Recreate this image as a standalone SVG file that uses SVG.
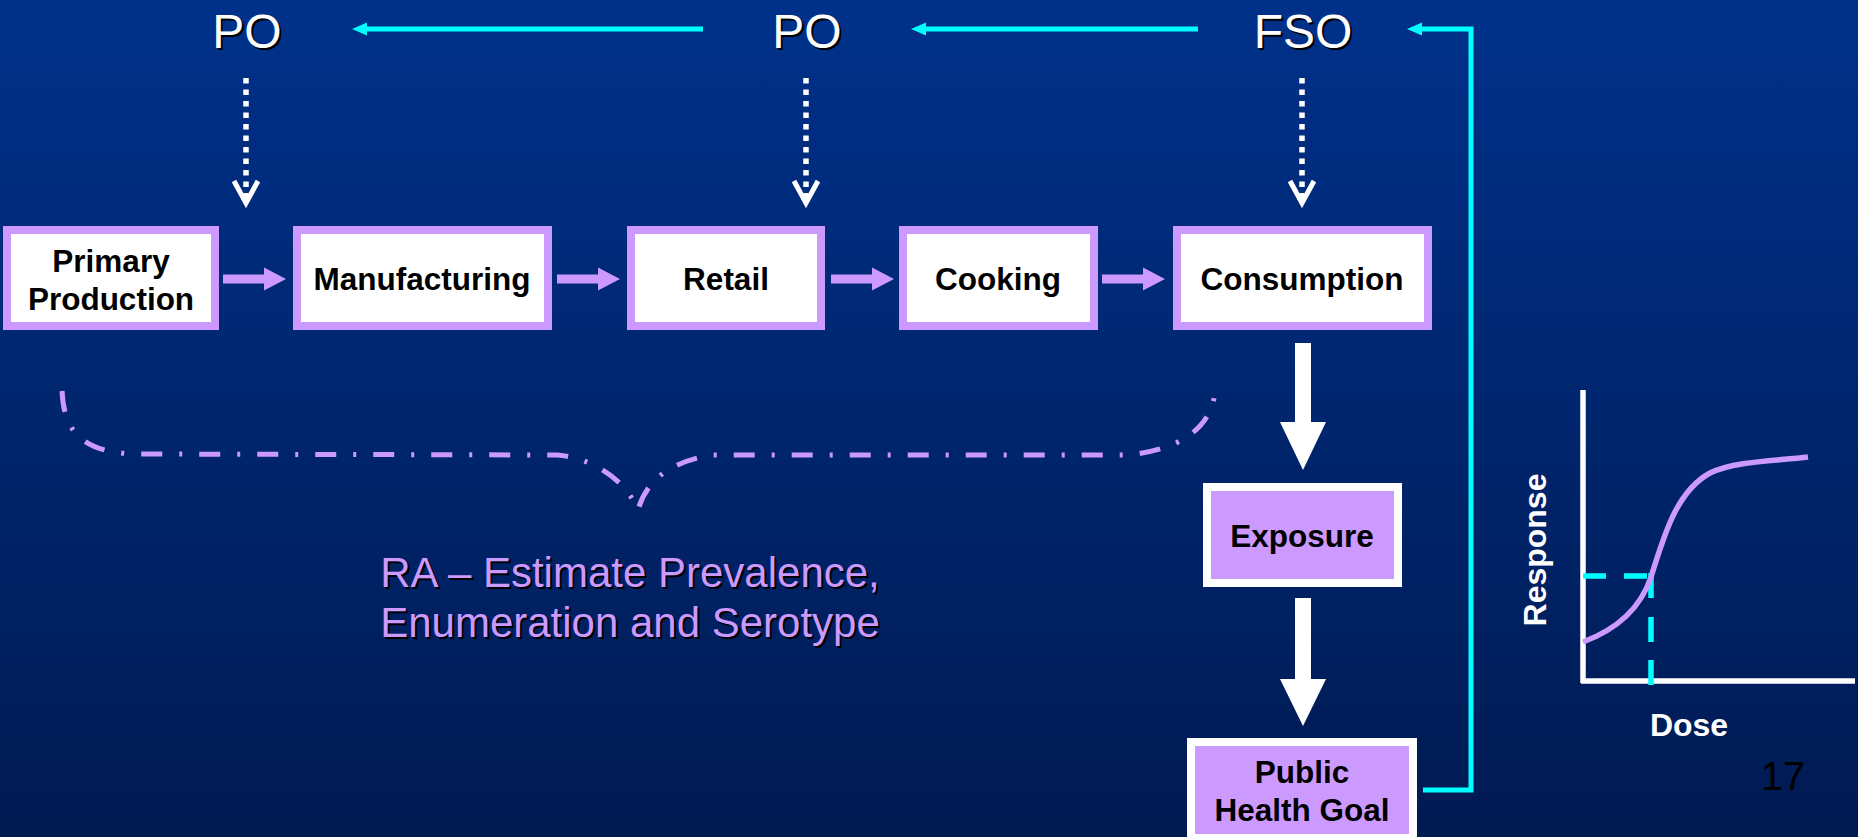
<svg xmlns="http://www.w3.org/2000/svg" width="1858" height="837" viewBox="0 0 1858 837">
<defs>
<linearGradient id="bg" x1="0" y1="0" x2="0" y2="1">
<stop offset="0" stop-color="#00318a"/>
<stop offset="1" stop-color="#001a52"/>
</linearGradient>
<polygon id="parrow" points="0,274.5 41,274.5 41,267.5 63,279 41,290.5 41,283.5 0,283.5" fill="#cc99ff"/>
</defs>
<style>
.lbl{font-family:"Liberation Sans",Arial,sans-serif;font-size:48px;text-anchor:middle}
.lw{fill:#ffffff}
.ls{fill:#000000}
.box{fill:#ffffff;stroke:#cc99ff;stroke-width:8}
.pbox{fill:#cc99ff;stroke:#ffffff;stroke-width:8}
.bt{font-family:"Liberation Sans",Arial,sans-serif;font-weight:bold;font-size:31.5px;text-anchor:middle;fill:#000000}
.cy{fill:none;stroke:#00ffff;stroke-width:5}
.cyh{fill:#00ffff}
.dot{fill:none;stroke:#ffffff;stroke-width:5.5;stroke-dasharray:5.5 6}
.vee{fill:none;stroke:#ffffff;stroke-width:5}
.ra{font-family:"Liberation Sans",Arial,sans-serif;font-size:42px;text-anchor:middle}
.ax{font-family:"Liberation Sans",Arial,sans-serif;font-weight:bold;font-size:32px;text-anchor:middle;fill:#ffffff}
</style>
<rect x="0" y="0" width="1858" height="837" fill="url(#bg)"/>

<g id="connectors">
<!-- cyan feedback arrows -->
<path class="cy" d="M703,29 H362"/>
<polygon class="cyh" points="352,29 367,22.5 367,35.5"/>
<path class="cy" d="M1198,29 H921"/>
<polygon class="cyh" points="911,29 926,22.5 926,35.5"/>
<path class="cy" d="M1423,790 H1471 V29 H1417"/>
<polygon class="cyh" points="1407,29 1422,22.5 1422,35.5"/>
<!-- dotted objective arrows -->
<path class="dot" d="M246,78 V200"/>
<polyline class="vee" points="234,181 246,203 258,181"/>
<path class="dot" d="M806,78 V200"/>
<polyline class="vee" points="794,181 806,203 818,181"/>
<path class="dot" d="M1302,78 V200"/>
<polyline class="vee" points="1290,181 1302,203 1314,181"/>
<!-- purple chain arrows -->
<use href="#parrow" x="223"/>
<use href="#parrow" x="557"/>
<use href="#parrow" x="831"/>
<use href="#parrow" x="1102"/>
<!-- big white arrows -->
<polygon fill="#ffffff" points="1295,343 1311,343 1311,422 1326,422 1303,470 1280,422 1295,422"/>
<polygon fill="#ffffff" points="1295,598 1311,598 1311,679 1326,679 1303,726 1280,679 1295,679"/>
<!-- brace -->
<path d="M62,391 C64,430 80,452 135,454 L558,455 C590,458 625,478 638,510 C645,485 665,462 713,455 L1124,455 C1175,452 1212,430 1215,391" fill="none" stroke="#cc99ff" stroke-width="5" stroke-dasharray="21 17 3 17"/>
</g>

<g id="label-po1">
<text class="lbl ls" x="249" y="50">PO</text>
<text class="lbl lw" x="247" y="48">PO</text>
</g>
<g id="label-po2">
<text class="lbl ls" x="809" y="50">PO</text>
<text class="lbl lw" x="807" y="48">PO</text>
</g>
<g id="label-fso">
<text class="lbl ls" x="1305" y="50">FSO</text>
<text class="lbl lw" x="1303" y="48">FSO</text>
</g>

<g id="node-primary">
<rect class="box" x="7" y="230" width="208" height="96"/>
<text class="bt" x="111" y="272">Primary</text>
<text class="bt" x="111" y="310">Production</text>
</g>
<g id="node-manufacturing">
<rect class="box" x="297" y="230" width="251" height="96"/>
<text class="bt" x="422" y="290">Manufacturing</text>
</g>
<g id="node-retail">
<rect class="box" x="631" y="230" width="190" height="96"/>
<text class="bt" x="726" y="290">Retail</text>
</g>
<g id="node-cooking">
<rect class="box" x="903" y="230" width="191" height="96"/>
<text class="bt" x="998" y="290">Cooking</text>
</g>
<g id="node-consumption">
<rect class="box" x="1177" y="230" width="251" height="96"/>
<text class="bt" x="1302" y="290">Consumption</text>
</g>
<g id="node-exposure">
<rect class="pbox" x="1207" y="487" width="191" height="96"/>
<text class="bt" x="1302" y="547">Exposure</text>
</g>
<g id="node-phg">
<rect class="pbox" x="1191" y="742" width="222" height="96"/>
<text class="bt" x="1302" y="783">Public</text>
<text class="bt" x="1302" y="821">Health Goal</text>
</g>

<g id="label-ra">
<text class="ra ls" x="632" y="589">RA – Estimate Prevalence,</text>
<text class="ra ls" x="632" y="639">Enumeration and Serotype</text>
<text class="ra" fill="#cc99ff" x="630" y="587">RA – Estimate Prevalence,</text>
<text class="ra" fill="#cc99ff" x="630" y="637">Enumeration and Serotype</text>
</g>

<g id="dose-response">
<path d="M1583,390 V683 M1581,681 H1855" fill="none" stroke="#ffffff" stroke-width="5.5"/>
<path d="M1583,576 H1651" fill="none" stroke="#00ffff" stroke-width="5.5" stroke-dasharray="23 18"/>
<path d="M1651,573 V685" fill="none" stroke="#00ffff" stroke-width="5.5" stroke-dasharray="25 19 25 18 25"/>
<path d="M1583,642 C1615,630 1640,610 1651,577 C1663,540 1675,492 1710,473 C1735,461 1775,461 1808,457" fill="none" stroke="#cc99ff" stroke-width="5.5"/>
<text class="ax" transform="translate(1546,550) rotate(-90)" x="0" y="0">Response</text>
<text class="ax" x="1689" y="736">Dose</text>
</g>

<g id="page-number">
<text x="1783" y="790" font-family="Liberation Sans, Arial, sans-serif" font-size="40" text-anchor="middle" fill="#000000">17</text>
</g>
</svg>
